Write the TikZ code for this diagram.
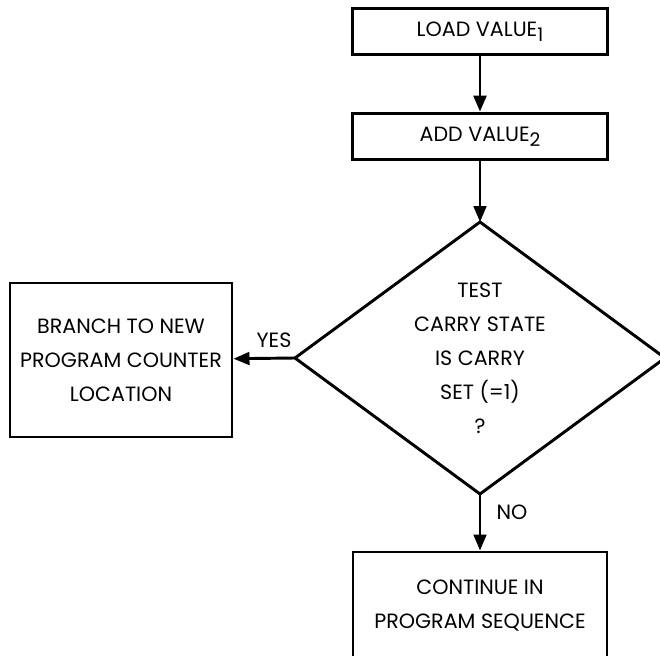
\documentclass[tikz,border=0pt]{standalone}
\usepackage{fontspec}
\setmainfont{Poppins}
\usetikzlibrary{arrows.meta}
\newcommand{\lowidx}[1]{\raisebox{-4pt}{\fontsize{14}{14}\selectfont #1}}
\begin{document}
\begin{tikzpicture}[x=0.75pt,y=-0.75pt,
 line/.style={line width=2.2pt},
 box/.style={line,draw,align=center,inner sep=0pt,font=\fontsize{15.5}{25.5}\selectfont},
 txt/.style={align=center,inner sep=0pt,font=\fontsize{15.5}{25.5}\selectfont},
 arr/.style={line,-{Triangle[length=12pt,width=9.5pt]}}]
 \useasboundingbox (0,0) rectangle (660,656);
 \clip (0,0) rectangle (660,656);
 \node[box,minimum width=191pt,minimum height=35pt](load) at (480,31.5){LOAD VALUE\lowidx{1}};
 \node[box,minimum width=191pt,minimum height=35pt](add) at (480,136.5){ADD VALUE\lowidx{2}};
 \coordinate (dtop) at (480,222);
 \coordinate (dleft) at (295,358);
 \coordinate (dbot) at (480,494);
 \coordinate (dright) at (665,358);
 \draw[line,line join=miter](dtop)--(dright)--(dbot)--(dleft)--cycle;
 \node[txt](test) at (480,358){TEST\\CARRY STATE\\IS CARRY\\SET (=1)\\?};
 \node[box,minimum width=166.5pt,minimum height=115.5pt](branch) at (121,360){BRANCH TO NEW\\PROGRAM COUNTER\\LOCATION};
 \node[box,minimum width=190.5pt,minimum height=81pt](cont) at (480,606){CONTINUE IN\\PROGRAM SEQUENCE};
 \draw[arr](load)--(add);
 \draw[arr](add)--(dtop);
 \draw[arr](dleft)--(branch);
 \draw[arr](dbot)--(cont);
 \node[txt](yes) at (274,340){YES};
 \node[txt](no) at (512,512){NO};
\end{tikzpicture}
\end{document}
